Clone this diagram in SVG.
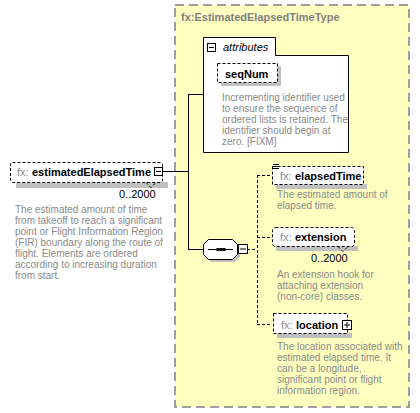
<svg xmlns="http://www.w3.org/2000/svg" width="420" height="413" viewBox="0 0 420 413">
<style>
.bg{fill:#ffffff}
.type{fill:#ffffc0;stroke:#808080;stroke-width:1.5;stroke-dasharray:9,5}
.dbox{fill:#ffffff;stroke:#000;stroke-width:1;stroke-dasharray:3,2}
.shadow{fill:#c0c0c0}
.solid{fill:#ffffff;stroke:#000;stroke-width:1}
.line{stroke:#000;stroke-width:1;fill:none}
.dline{stroke:#000;stroke-width:1;fill:none;stroke-dasharray:3,2}
.name{font-family:"Liberation Sans",Arial,sans-serif;font-size:11px;font-weight:bold;fill:#000}
.pfx{font-family:"Liberation Sans",Arial,sans-serif;font-size:11px;fill:#8c8c8c}
.desc{font-family:"Liberation Sans",Arial,sans-serif;font-size:10px;fill:#8a8a8a}
.card{font-family:"Liberation Sans",Arial,sans-serif;font-size:11px;fill:#000}
.title{font-family:"Liberation Sans",Arial,sans-serif;font-size:11px;font-weight:bold;fill:#7f7f7f}
</style>
<rect width="420" height="413" class="bg"/>
<g id="type">
<rect x="175" y="5" width="234" height="402" class="type"/>
<text x="181" y="21" class="title">fx:EstimatedElapsedTimeType</text>
</g>
<g id="connectors">
<line x1="163" y1="171.5" x2="188" y2="171.5" class="line"/>
<line x1="188.5" y1="94" x2="188.5" y2="249" class="line"/>
<line x1="188" y1="94.5" x2="203" y2="94.5" class="line"/>
<line x1="188" y1="249.5" x2="203" y2="249.5" class="line"/>
<line x1="247" y1="249.5" x2="257" y2="249.5" class="dline"/>
<line x1="257.5" y1="175" x2="257.5" y2="324" class="dline"/>
<line x1="257" y1="175.5" x2="272" y2="175.5" class="dline"/>
<line x1="257" y1="237.5" x2="272" y2="237.5" class="dline"/>
<line x1="257" y1="324.5" x2="272" y2="324.5" class="dline"/>
</g>
<g id="estimatedElapsedTime">
<rect x="16" y="182" width="152" height="6" class="shadow"/>
<rect x="10.5" y="162.5" width="152" height="20" rx="2" class="dbox"/>
<polyline points="146,182.5 151,187.5 156,182.5" class="dline"/>
<text x="17" y="176" class="pfx">fx:</text>
<text x="32" y="176" class="name">estimatedElapsedTime</text>
<rect x="154.5" y="167.5" width="8" height="8" class="solid"/>
<line x1="156" y1="171.5" x2="161" y2="171.5" class="line"/>
<text x="119" y="198" class="card">0..2000</text>
<text class="desc"><tspan x="15" y="213">The estimated amount of time</tspan><tspan x="15" y="224">from takeoff to reach a significant</tspan><tspan x="15" y="235">point or Flight Information Region</tspan><tspan x="15" y="246">(FIR) boundary along the route of</tspan><tspan x="15" y="257">flight. Elements are ordered</tspan><tspan x="15" y="268">according to increasing duration</tspan><tspan x="15" y="279">from start.</tspan></text>
</g>
<g id="attributes">
<path d="M203.5,37.5 H275.5 V55.5 H348.5 V152.5 H203.5 Z" class="solid"/>
<rect x="207.5" y="43.5" width="8" height="8" class="solid"/>
<line x1="209" y1="47.5" x2="214" y2="47.5" class="line"/>
<text x="223" y="51" font-family="'Liberation Sans',Arial,sans-serif" font-size="11" font-style="italic" fill="#000">attributes</text>
</g>
<g id="seqNum">
<rect x="221" y="66" width="60" height="20" class="shadow"/>
<rect x="217.5" y="63.5" width="60" height="19" class="dbox"/>
<text x="225" y="78" class="name">seqNum</text>
<text class="desc"><tspan x="222" y="101">Incrementing identifier used</tspan><tspan x="222" y="112">to ensure the sequence of</tspan><tspan x="222" y="123">ordered lists is retained. The</tspan><tspan x="222" y="134">identifier should begin at</tspan><tspan x="222" y="145">zero. [FIXM]</tspan></text>
</g>
<g id="sequence">
<polygon points="211,242 235,242 240,247 240,257 235,262 211,262 206,257 206,247" class="shadow"/>
<polygon points="208.5,239.5 232.5,239.5 237.5,244.5 237.5,254.5 232.5,259.5 208.5,259.5 203.5,254.5 203.5,244.5" class="solid"/>
<line x1="208" y1="249.5" x2="233" y2="249.5" class="line"/>
<rect x="216.5" y="248" width="3" height="3" fill="#000"/>
<rect x="219.5" y="248" width="3" height="3" fill="#000"/>
<rect x="222.5" y="248" width="3" height="3" fill="#000"/>
<rect x="238.5" y="244.5" width="9" height="9" class="solid"/>
<line x1="240" y1="249" x2="246" y2="249" class="line"/>
</g>
<g id="elapsedTime">
<rect x="276" y="184" width="91" height="5" class="shadow"/>
<rect x="272.5" y="166.5" width="91" height="18" class="dbox"/>
<line x1="273" y1="164.5" x2="279" y2="164.5" class="line"/>
<line x1="273" y1="166.5" x2="279" y2="166.5" class="line"/>
<line x1="273" y1="168.5" x2="279" y2="168.5" class="line"/>
<text x="280" y="180" class="pfx">fx:</text>
<text x="295" y="180" class="name">elapsedTime</text>
<text class="desc"><tspan x="277" y="198">The estimated amount of</tspan><tspan x="277" y="209">elapsed time.</tspan></text>
</g>
<g id="extension">
<rect x="276" y="246" width="82" height="5" class="shadow"/>
<rect x="272.5" y="227.5" width="82" height="19" rx="3" class="dbox"/>
<polyline points="338,246.5 343,251.5 348,246.5" class="dline"/>
<text x="280" y="241" class="pfx">fx:</text>
<text x="295" y="241" class="name">extension</text>
<text x="311" y="262" class="card">0..2000</text>
<text class="desc"><tspan x="277" y="278">An extension hook for</tspan><tspan x="277" y="289">attaching extension</tspan><tspan x="277" y="300">(non-core) classes.</tspan></text>
</g>
<g id="location">
<rect x="277" y="333" width="75" height="5" class="shadow"/>
<rect x="273.5" y="313.5" width="74" height="20" class="dbox"/>
<text x="281" y="329" class="pfx">fx:</text>
<text x="296" y="329" class="name">location</text>
<rect x="342.5" y="320.5" width="9" height="9" class="solid"/>
<line x1="344" y1="325" x2="350" y2="325" class="line"/>
<line x1="347" y1="322" x2="347" y2="328" class="line"/>
<text class="desc"><tspan x="277" y="350">The location associated with</tspan><tspan x="277" y="361">estimated elapsed time. It</tspan><tspan x="277" y="372">can be a longitude,</tspan><tspan x="277" y="383">significant point or flight</tspan><tspan x="277" y="394">information region.</tspan></text>
</g>
</svg>
